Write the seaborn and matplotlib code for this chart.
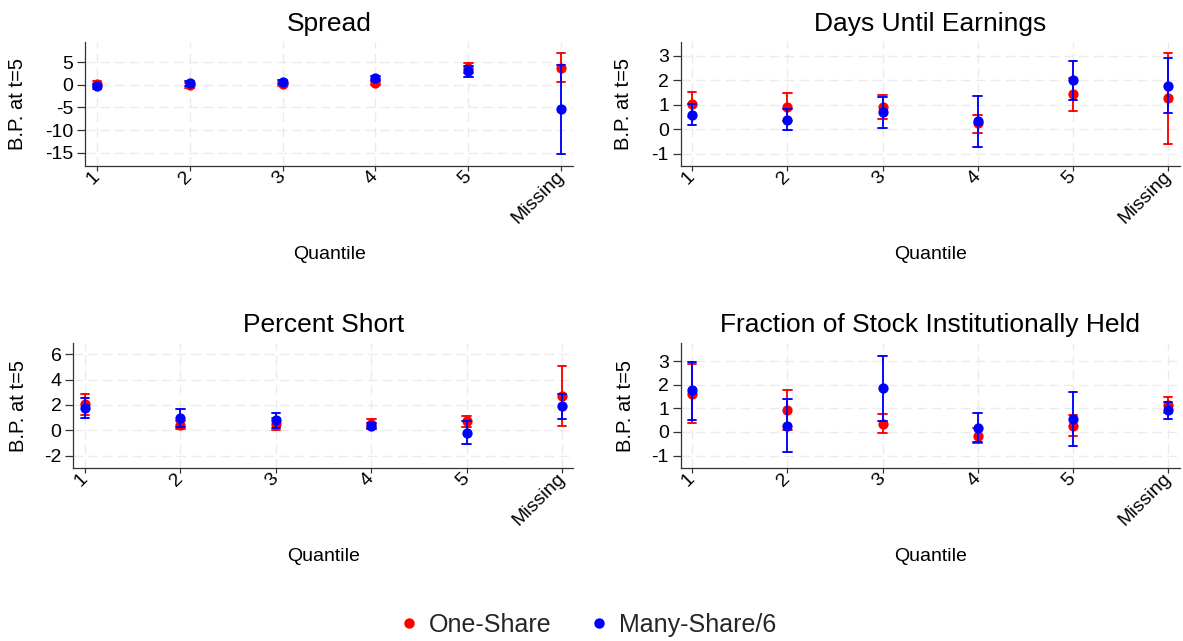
import matplotlib
matplotlib.use("Agg")
import matplotlib.pyplot as plt
from matplotlib.lines import Line2D
import numpy as np
import pandas as pd
import seaborn as sns

# ---------------- data ----------------
quantiles = ["1", "2", "3", "4", "5", "Missing"]
series_names = ["One-Share", "Many-Share/6"]
titles = ["Spread", "Days Until Earnings", "Percent Short",
          "Fraction of Stock Institutionally Held"]

# Spread
spread_one_mid = [0.15, -0.15, 0.15, 0.45, 3.6, 3.7]
spread_one_lo = [-0.5, -0.6, -0.35, -0.1, 2.6, 0.65]
spread_one_hi = [0.8, 0.3, 0.65, 1.0, 4.7, 7.0]
spread_many_mid = [-0.35, 0.3, 0.6, 1.45, 2.95, -5.4]
spread_many_lo = [-0.9, -0.2, 0.1, 0.9, 1.7, -15.2]
spread_many_hi = [0.2, 0.8, 1.1, 2.0, 4.2, 4.45]

# Days Until Earnings
days_one_mid = [1.02, 0.91, 0.91, 0.24, 1.43, 1.27]
days_one_lo = [0.5, 0.33, 0.41, -0.14, 0.76, -0.6]
days_one_hi = [1.54, 1.49, 1.40, 0.57, 2.1, 3.1]
days_many_mid = [0.6, 0.39, 0.69, 0.34, 2.0, 1.78]
days_many_lo = [0.16, -0.03, 0.07, -0.72, 1.2, 0.67]
days_many_hi = [1.04, 0.81, 1.31, 1.37, 2.8, 2.9]

# Percent Short
short_one_mid = [2.09, 0.4, 0.5, 0.5, 0.72, 2.68]
short_one_lo = [1.22, 0.1, 0.05, 0.15, 0.25, 0.37]
short_one_hi = [2.89, 0.75, 0.95, 0.9, 1.11, 5.05]
short_many_mid = [1.8, 0.98, 0.8, 0.35, -0.18, 1.89]
short_many_lo = [0.95, 0.24, 0.16, 0.12, -1.11, 0.87]
short_many_hi = [2.57, 1.67, 1.4, 0.58, 0.75, 2.84]

# Fraction of Stock Institutionally Held
inst_one_mid = [1.62, 0.92, 0.33, -0.15, 0.25, 1.13]
inst_one_lo = [0.39, 0.1, -0.06, -0.45, -0.18, 0.8]
inst_one_hi = [2.88, 1.76, 0.74, 0.15, 0.71, 1.48]
inst_many_mid = [1.77, 0.25, 1.84, 0.18, 0.56, 0.92]
inst_many_lo = [0.5, -0.86, 0.45, -0.42, -0.58, 0.56]
inst_many_hi = [2.98, 1.38, 3.23, 0.81, 1.7, 1.28]

yticks_spread = [5, 0, -5, -10, -15]
yticks_days = [3, 2, 1, 0, -1]
yticks_short = [6, 4, 2, 0, -2]
yticks_inst = [3, 2, 1, 0, -1]

panels = [
    (spread_one_mid, spread_one_lo, spread_one_hi,
     spread_many_mid, spread_many_lo, spread_many_hi, yticks_spread),
    (days_one_mid, days_one_lo, days_one_hi,
     days_many_mid, days_many_lo, days_many_hi, yticks_days),
    (short_one_mid, short_one_lo, short_one_hi,
     short_many_mid, short_many_lo, short_many_hi, yticks_short),
    (inst_one_mid, inst_one_lo, inst_one_hi,
     inst_many_mid, inst_many_lo, inst_many_hi, yticks_inst),
]

# ---------------- style / layout ----------------
sns.set_theme(style="white")
plt.rcParams["font.family"] = ["Liberation Sans", "DejaVu Sans"]

W, H = 1183, 641
fig = plt.figure(figsize=(W / 100, H / 100), dpi=100)
fig.patch.set_facecolor("white")

# axes boxes in pixels: left, right, top, bottom
boxes = [(85, 573.4, 41.7, 166.0),
         (680.7, 1180.0, 42.0, 166.0),
         (73.3, 573.0, 343.3, 467.7),
         (680.7, 1180.0, 343.3, 467.7)]
ylims = [(-17.9, 9.5), (-1.5, 3.56), (-2.95, 6.87), (-1.51, 3.75)]
xlims = [(-0.126, 5.131), (-0.121, 5.126), (-0.123, 5.115), (-0.121, 5.126)]
ylab_x = [-0.138, -0.114, -0.109, -0.11]

palette = {"One-Share": "#ff0000", "Many-Share/6": "#0000ff"}
grid_kw = dict(color="#ebebeb", linewidth=1.0, linestyle=(0, (7, 3.6)))

for i, (p, title) in enumerate(zip(panels, titles)):
    om, ol, oh, mm, ml, mh, yt = p
    rows = []
    for q, a, b, c in zip(quantiles, ol, om, oh):
        for v in (a, b, c):
            rows.append({"Quantile": q, "series": "One-Share", "value": v})
    for q, a, b, c in zip(quantiles, ml, mm, mh):
        for v in (a, b, c):
            rows.append({"Quantile": q, "series": "Many-Share/6", "value": v})
    df = pd.DataFrame(rows)

    L, R, T, B = boxes[i]
    ax = fig.add_axes([L / W, 1 - B / H, (R - L) / W, (B - T) / H])
    sns.pointplot(data=df, x="Quantile", y="value", hue="series",
                  order=quantiles, hue_order=series_names, palette=palette,
                  estimator="median", errorbar=("pi", 100),
                  linestyle="none", markers="o", dodge=False,
                  capsize=0.09, err_kws={"linewidth": 1.35},
                  markersize=7.4, markeredgewidth=0,
                  legend=False, ax=ax)

    ax.set_xlim(*xlims[i])
    ax.set_ylim(*ylims[i])
    ax.set_yticks(yt)
    ax.set_yticklabels([f"{v:g}" for v in yt])
    ax.set_axisbelow(True)
    ax.grid(True, axis="both", **grid_kw)

    for s in ["top", "right"]:
        ax.spines[s].set_visible(False)
    for s in ["left", "bottom"]:
        ax.spines[s].set_color("#333333")
        ax.spines[s].set_linewidth(0.9)

    ax.tick_params(axis="y", length=5.5, width=0.9, color="#333333",
                   labelsize=14, pad=3, left=True, labelcolor="black")
    ax.tick_params(axis="x", length=3.5, width=0.9, color="#333333",
                   labelsize=14, pad=2.5, bottom=True, labelcolor="black")
    for lab in ax.get_xticklabels():
        lab.set_rotation(45)
        lab.set_ha("right")
        lab.set_va("center")
        lab.set_rotation_mode("anchor")

    ax.set_title(title, fontsize=19, pad=8, color="black")
    ax.set_xlabel("Quantile", fontsize=14, color="black")
    ax.set_ylabel("B.P. at t=5", fontsize=14.5, color="black")
    ax.xaxis.set_label_coords(0.5, -0.716)
    ax.xaxis.label.set_va("center")
    ax.yaxis.set_label_coords(ylab_x[i], 0.5)
    ax.yaxis.label.set_va("center")

handles = [Line2D([0], [0], marker="o", linestyle="none", markersize=7.5,
                  markeredgewidth=0, markerfacecolor=palette[n]) for n in series_names]
fig.legend(handles, series_names, loc="center", bbox_to_anchor=(588 / W, 0.025),
           ncol=2, frameon=False, fontsize=18, handlelength=0.8,
           handletextpad=0.4, columnspacing=1.5)

fig.savefig("out.png", dpi=100, facecolor="white")
